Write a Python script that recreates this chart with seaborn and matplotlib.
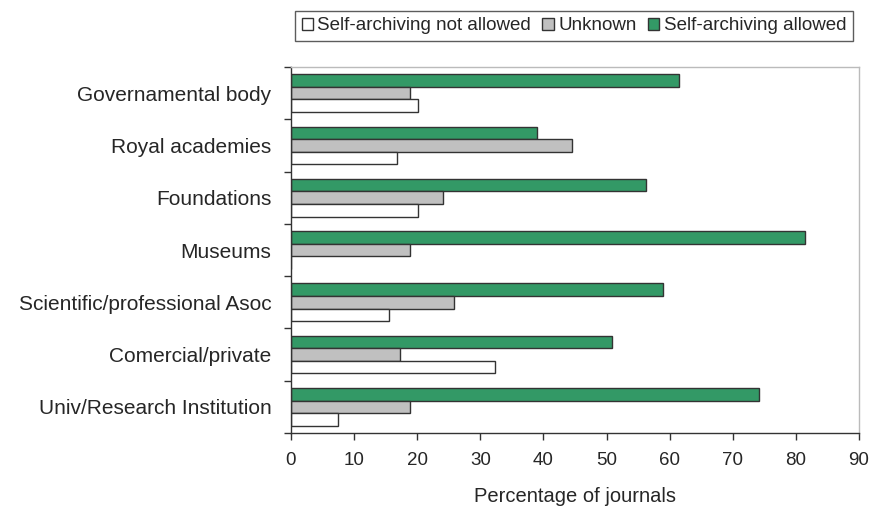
import pandas as pd
import matplotlib.pyplot as plt
import numpy as np
import seaborn as sns

# Dados
categorias = ['Governamental body', 'Royal academies', 'Foundations', 'Museums',
              'Scientific/professional Asoc', 'Comercial/private', 'Univ/Research Institution']
permitido = [61.4, 39.0, 56.3, 81.4, 59.0, 50.9, 74.1]
desconhecido = [18.9, 44.6, 24.1, 18.9, 25.9, 17.3, 18.8]
nao_permitido = [20.1, 16.8, 20.1, 0.0, 15.5, 32.3, 7.5]

series = ['Self-archiving allowed', 'Unknown', 'Self-archiving not allowed']
cores = {'Self-archiving allowed': '#339966', 'Unknown': '#c0c0c0',
         'Self-archiving not allowed': '#ffffff'}

df = pd.DataFrame({
    'Categoria': categorias * 3,
    'Serie': [series[0]] * 7 + [series[1]] * 7 + [series[2]] * 7,
    'Valor': permitido + desconhecido + nao_permitido,
})

sns.set_style('white')
plt.rcParams['font.family'] = ['Liberation Sans', 'DejaVu Sans']

fig = plt.figure(figsize=(8.75, 5.09), dpi=100)
ax = fig.add_axes([291 / 875, 1 - 433 / 509, (859 - 291) / 875, (433 - 67) / 509])

sns.barplot(data=df, y='Categoria', x='Valor', hue='Serie', order=categorias,
            hue_order=series, palette=cores, orient='h', width=0.72, saturation=1,
            edgecolor='#333333', linewidth=1.0, ax=ax, legend=True)

ax.set_xlim(0, 90)
ax.set_ylim(6.5, -0.5)
ax.set_xticks(np.arange(0, 91, 10))
ax.set_xlabel('Percentage of journals', fontsize=14.5, labelpad=13)
ax.set_ylabel('')

# ticks do eixo y nos limites entre categorias
ax.set_yticks(np.arange(len(categorias)))
ax.set_yticklabels(categorias, fontsize=15)
ax.set_yticks(np.arange(-0.5, len(categorias), 1), minor=True)
ax.tick_params(axis='y', which='major', length=0, pad=14)
ax.tick_params(axis='y', which='minor', length=5, direction='out', width=1, color='#333333', left=True)
ax.tick_params(axis='x', which='major', length=5, direction='out', width=1, color='#333333',
               labelsize=13.5, pad=9, bottom=True)

for lado in ['left', 'bottom']:
    ax.spines[lado].set_color('#333333')
    ax.spines[lado].set_linewidth(1.0)
for lado in ['top', 'right']:
    ax.spines[lado].set_color('#bbbbbb')
    ax.spines[lado].set_linewidth(1.0)

# legenda na ordem original
handles, labels = ax.get_legend_handles_labels()
ax.get_legend().remove()
ordem = [2, 1, 0]
leg = fig.legend([handles[i] for i in ordem], [labels[i] for i in ordem],
                 loc='center', bbox_to_anchor=(574 / 875, 1 - 26 / 509), ncol=3,
                 fontsize=13.5, frameon=True, fancybox=False, edgecolor='#333333',
                 handlelength=0.6, handleheight=0.6, handletextpad=0.25,
                 columnspacing=0.6, borderpad=0.35)
leg.get_frame().set_linewidth(1.0)

fig.savefig('out.png', dpi=100)
